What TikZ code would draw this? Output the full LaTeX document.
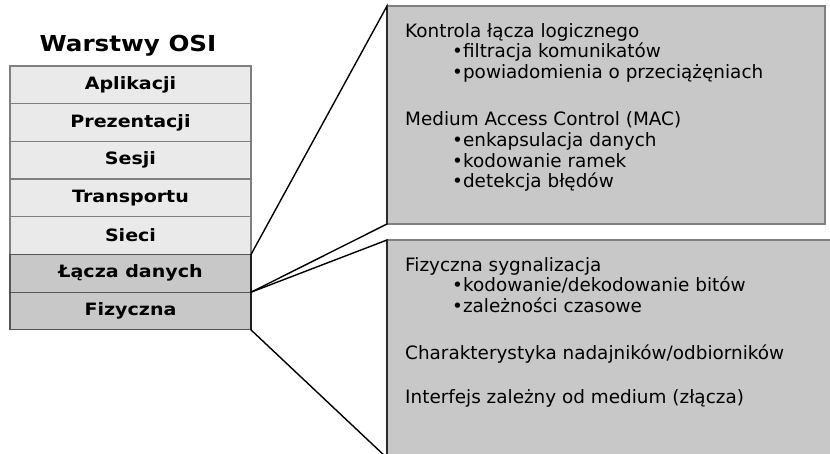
\documentclass[tikz,border=0pt]{standalone}
\usepackage{fontspec}
\setmainfont{DejaVu Sans}
\newfontfamily\widebold{DejaVu Sans}[FakeStretch=1.12]
\usetikzlibrary{positioning}
\definecolor{lightrow}{HTML}{EAEAEA}
\definecolor{darkrow}{HTML}{C8C8C8}
\definecolor{edgegray}{HTML}{7F7F7F}
\definecolor{edgedark}{HTML}{555555}

\begin{document}
\begin{tikzpicture}[x=1pt, y=-1pt,
    layer/.style={draw=edgegray, line width=1.2pt, fill=lightrow, minimum width=241pt, minimum height=37.7pt, inner sep=0pt, outer sep=0pt, font=\widebold\bfseries\fontsize{17}{20}\selectfont},
    lowlayer/.style={layer, draw=edgedark, fill=darkrow},
    infobox/.style={draw=edgegray, line width=1.5pt, fill=darkrow, minimum width=438pt, minimum height=218pt, inner sep=0pt, outer sep=0pt},
    infotext/.style={anchor=north west, align=left, inner sep=0pt, font=\fontsize{18.4}{20.8}\selectfont},
    zoomline/.style={line width=1.4pt, black}]
    \useasboundingbox (0,0) rectangle (830,454);

    % Title
    \node[font=\widebold\bfseries\fontsize{22}{26}\selectfont, anchor=base] (title) at (128,51.7) {Warstwy OSI};

    % Layer stack
    \node[layer] (app) at (130.5,84.85) {Aplikacji};
    \node[layer, below=0pt of app] (pres) {Prezentacji};
    \node[layer, below=0pt of pres] (ses) {Sesji};
    \node[layer, below=0pt of ses] (trans) {Transportu};
    \node[layer, below=0pt of trans] (net) {Sieci};
    \node[lowlayer, below=0pt of net] (link) {Łącza danych};
    \node[lowlayer, below=0pt of link] (phys) {Fizyczna};

    % Data link detail
    \node[infobox] (linkbox) at (606,115) {};
    \node[infotext] (linktext) at (405,23) {Kontrola łącza logicznego\\
        \hspace*{47pt}•filtracja komunikatów\\
        \hspace*{47pt}•powiadomienia o przeciążęniach\\[26pt]
        Medium Access Control (MAC)\\
        \hspace*{47pt}•enkapsulacja danych\\
        \hspace*{47pt}•kodowanie ramek\\
        \hspace*{47pt}•detekcja błędów};
    \draw[zoomline] (link.north east) -- (linkbox.north west) -- (linkbox.south west) -- (link.south east) -- cycle;

    % Physical detail
    \node[infobox, minimum width=453pt] (physbox) at (613.5,349) {};
    \node[infotext] (phystext) at (405,257) {Fizyczna sygnalizacja\\
        \hspace*{47pt}•kodowanie/dekodowanie bitów\\
        \hspace*{47pt}•zależności czasowe\\[26pt]
        Charakterystyka nadajników/odbiorników\\[23pt]
        Interfejs zależny od medium (złącza)};
    \draw[zoomline] (phys.north east) -- (physbox.north west) -- (physbox.south west) -- (phys.south east) -- cycle;
\end{tikzpicture}
\end{document}
